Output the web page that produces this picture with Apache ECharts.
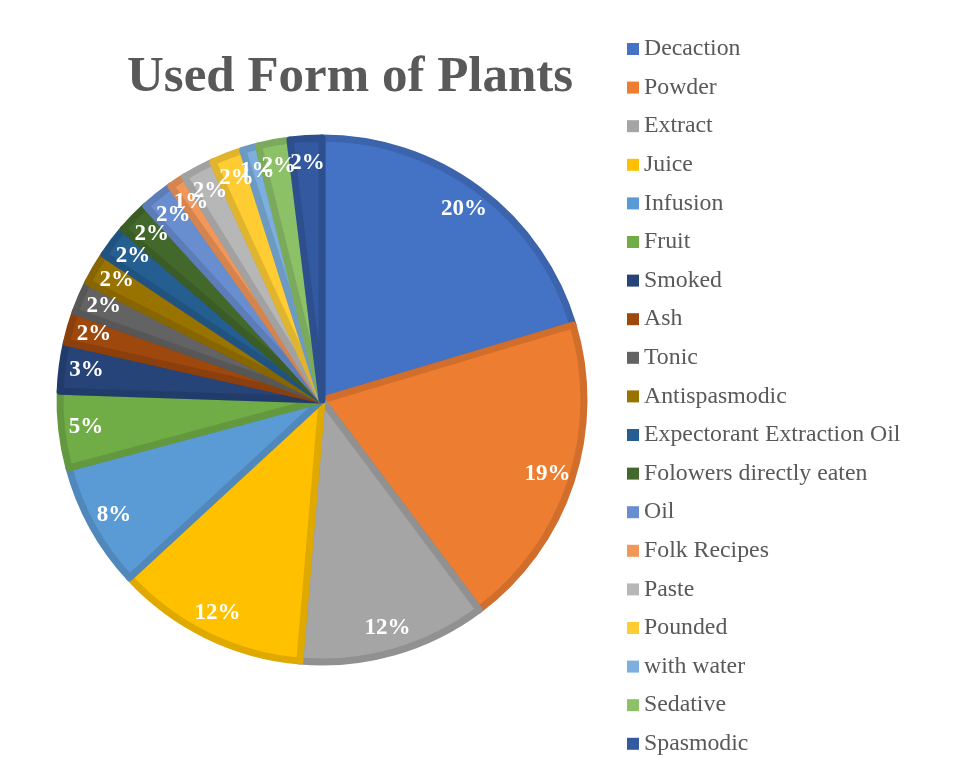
<!DOCTYPE html>
<html><head><meta charset="utf-8">
<script src="https://cdn.jsdelivr.net/npm/echarts@6/dist/echarts.min.js"></script>
<style>html,body{margin:0;padding:0;background:#fff}#c{width:958px;height:765px}</style>
</head><body><div id="c"></div>
<script>
var categories = ['Decaction','Powder','Extract','Juice','Infusion','Fruit','Smoked','Ash','Tonic','Antispasmodic','Expectorant Extraction Oil','Folowers directly eaten','Oil','Folk Recipes','Paste','Pounded','with water','Sedative','Spasmodic'];
var values = [20.4,19.4,11.6,11.8,7.7,4.7,3.0,1.95,1.95,1.95,1.95,1.95,1.95,1.0,1.95,1.95,1.0,1.95,1.95];
var colors = ['#4472C4','#ED7D31','#A5A5A5','#FFC000','#5B9BD5','#70AD47','#264478','#9E480E','#636363','#997300','#255E91','#43682B','#698ED0','#F1975A','#B7B7B7','#FFCD33','#7CAFDD','#8CC168','#335AA1'];

function darker(hex, f){
  var n=parseInt(hex.slice(1),16);
  var r=Math.round(((n>>16)&255)*f), g=Math.round(((n>>8)&255)*f), b=Math.round((n&255)*f);
  return 'rgb('+r+','+g+','+b+')';
}
var pieData = categories.map(function(n,i){
  return {name:n, value:values[i], itemStyle:{color:colors[i], borderColor:darker(colors[i],0.88)}};
});
var labelData = categories.map(function(n,i){ return {name:n, value:values[i]}; });

var chart = echarts.init(document.getElementById('c'));
chart.setOption({
  animation:false,
  title:{text:'Used Form of Plants', left:122, top:47,
    textStyle:{fontFamily:'Liberation Serif', fontWeight:'bold', fontSize:51, color:'#595959'}},
  legend:{orient:'vertical', left:622, top:32, itemWidth:12, itemHeight:12, itemGap:14.6,
    icon:'rect', data:categories, itemStyle:{borderWidth:0},
    textStyle:{fontFamily:'Liberation Serif', fontSize:23.8, color:'#595959', lineHeight:24}},
  series:[
    {type:'pie', center:[322,400], radius:[0,262], startAngle:90, clockwise:true,
     label:{show:false}, labelLine:{show:false}, silent:true,
     itemStyle:{borderWidth:7, borderJoin:'round'},
     data:pieData},
    {type:'pie', center:[322,400], radius:[204,265], startAngle:90, clockwise:true, silent:true,
     avoidLabelOverlap:false, labelLayout:{hideOverlap:false},
     itemStyle:{color:'rgba(0,0,0,0)', borderWidth:0},
     label:{show:true, position:'inside', formatter:function(p){return Math.round(p.value)+'%';},
       fontFamily:'Liberation Serif', fontWeight:'bold', fontSize:23, color:'#fff'},
     labelLine:{show:false},
     data:labelData}
  ]
});
</script></body></html>
